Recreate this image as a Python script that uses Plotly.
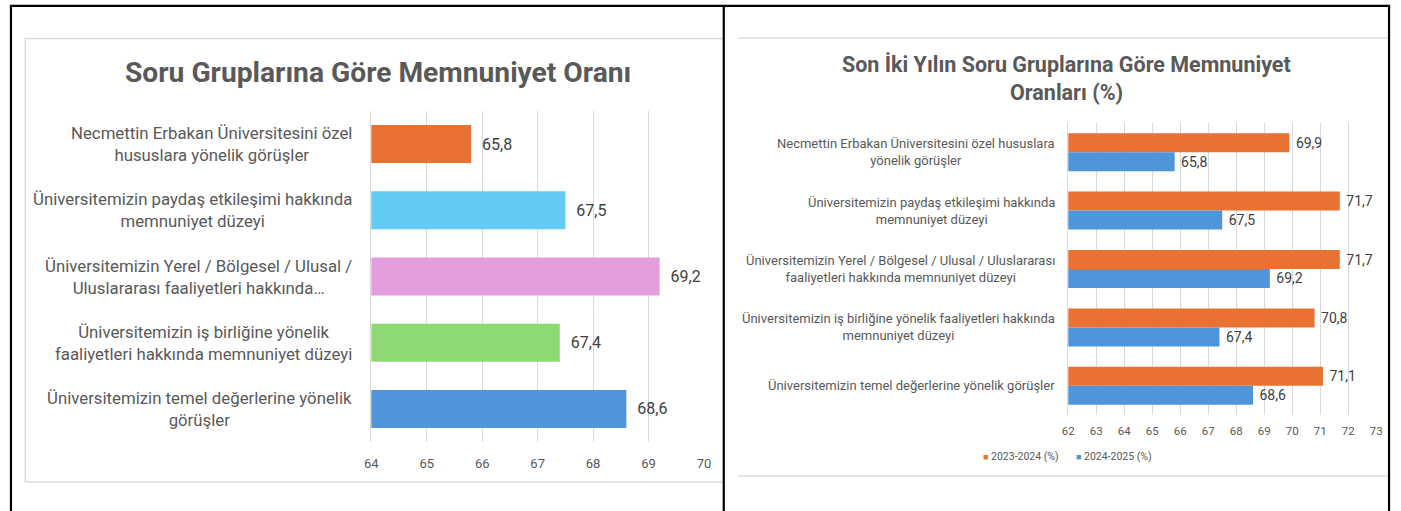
"""Two satisfaction bar charts side by side, as pasted in a Word table."""

import plotly.graph_objects as go

# --- data -------------------------------------------------------------------
left_labels = [
    "Necmettin Erbakan Üniversitesini özel<br>hususlara yönelik görüşler",
    "Üniversitemizin paydaş etkileşimi hakkında<br>memnuniyet düzeyi",
    "Üniversitemizin Yerel / Bölgesel / Ulusal /<br>Uluslararası faaliyetleri hakkında…",
    "Üniversitemizin iş birliğine yönelik<br>faaliyetleri hakkında memnuniyet düzeyi",
    "Üniversitemizin temel değerlerine yönelik<br>görüşler",
]
right_labels = [
    "Necmettin Erbakan Üniversitesini özel hususlara<br>yönelik görüşler",
    "Üniversitemizin paydaş etkileşimi hakkında<br>memnuniyet düzeyi",
    "Üniversitemizin Yerel / Bölgesel / Ulusal / Uluslararası<br>faaliyetleri hakkında memnuniyet düzeyi",
    "Üniversitemizin iş birliğine yönelik faaliyetleri hakkında<br>memnuniyet düzeyi",
    "Üniversitemizin temel değerlerine yönelik görüşler",
]
series_names = ["2023-2024 (%)", "2024-2025 (%)"]
values_2324 = [69.9, 71.7, 71.7, 70.8, 71.1]
values_2425 = [65.8, 67.5, 69.2, 67.4, 68.6]

left_title = "Soru Gruplarına Göre Memnuniyet Oranı"
right_title = ["Son İki Yılın Soru Gruplarına Göre Memnuniyet", "Oranları (%)"]

# --- styling ----------------------------------------------------------------
W, H = 1401, 511
FONT = "Roboto"
GREY_TXT = "#595959"
GRID = "#d9d9d9"
ORANGE = "#E97132"
BLUE = "#4E95D9"
left_colors = [ORANGE, "#61CBF3", "#E59EDD", "#8ED973", BLUE]


def px(x):
    return x / W


def py(y):
    return 1 - y / H


fig = go.Figure()

fig.add_trace(
    go.Bar(
        x=values_2425,
        y=left_labels,
        orientation="h",
        width=0.574,
        marker=dict(color=left_colors, line=dict(width=0)),
        texttemplate="\u00a0\u00a0%{x:.1f}",
        textposition="outside",
        textfont=dict(family=FONT, size=16, color="#404040"),
        constraintext="none",
        cliponaxis=False,
        showlegend=False,
        xaxis="x",
        yaxis="y",
    )
)

for name, vals, color in zip(series_names, [values_2324, values_2425], [ORANGE, BLUE]):
    fig.add_trace(
        go.Bar(
            x=vals,
            y=right_labels,
            orientation="h",
            name=name,
            marker=dict(color=color, line=dict(width=0)),
            texttemplate="\u00a0%{x:.1f}",
            textposition="outside",
            textfont=dict(family=FONT, size=14, color="#404040"),
            constraintext="none",
            cliponaxis=False,
            showlegend=False,
            xaxis="x2",
            yaxis="y2",
        )
    )

axis_common = dict(
    showgrid=True,
    gridcolor=GRID,
    gridwidth=1,
    zeroline=False,
    dtick=1,
    ticks="outside",
    tickcolor="rgba(0,0,0,0)",
    fixedrange=True,
)

fig.update_layout(
    width=W,
    height=H,
    margin=dict(l=0, r=0, t=0, b=0),
    paper_bgcolor="white",
    plot_bgcolor="white",
    separators=",.",
    barmode="group",
    bargap=0.35,
    bargroupgap=0,
    font=dict(family=FONT, color=GREY_TXT),
    xaxis=dict(
        domain=[px(368), px(704)],
        range=[64, 70],
        anchor="y",
        ticklen=9,
        tickfont=dict(size=13, color=GREY_TXT),
        **axis_common,
    ),
    yaxis=dict(
        domain=[py(442), py(111)],
        type="category",
        autorange="reversed",
        showticklabels=False,
        showline=True,
        linecolor=GRID,
        anchor="x",
        fixedrange=True,
    ),
    xaxis2=dict(
        domain=[px(1072), px(1383)],
        range=[62, 73],
        anchor="y2",
        ticklen=5,
        tickfont=dict(size=11.5, color=GREY_TXT),
        **axis_common,
    ),
    yaxis2=dict(
        domain=[py(415), py(123)],
        type="category",
        autorange="reversed",
        showticklabels=False,
        showline=True,
        linecolor=GRID,
        anchor="x2",
        fixedrange=True,
    ),
)

# category labels: right-aligned blocks, centred lines
for lab in left_labels:
    fig.add_annotation(
        x=px(350), xref="paper", xanchor="right",
        y=lab, yref="y", yanchor="middle",
        text=lab, align="center", showarrow=False,
        font=dict(family=FONT, size=16.8, color=GREY_TXT),
    )
for lab in right_labels:
    fig.add_annotation(
        x=px(1061), xref="paper", xanchor="right",
        y=lab, yref="y2", yanchor="middle",
        text=lab, align="center", showarrow=False,
        font=dict(family=FONT, size=13, color=GREY_TXT),
    )

# titles
fig.add_annotation(
    x=px(374.5), y=py(73), xref="paper", yref="paper",
    xanchor="center", yanchor="middle", showarrow=False,
    text=f"<b>{left_title}</b>",
    font=dict(family=FONT, size=28.2, color=GREY_TXT),
)
for line, ypos in zip(right_title, [64, 93]):
    fig.add_annotation(
        x=px(1070), y=py(ypos), xref="paper", yref="paper",
        xanchor="center", yanchor="middle", showarrow=False,
        text=f"<b>{line}</b>",
        font=dict(family=FONT, size=21.5, color=GREY_TXT),
    )

# legend of the right chart
for name, color, xpos in zip(series_names, [ORANGE, BLUE], [984, 1078]):
    fig.add_annotation(
        x=px(xpos), y=py(456), xref="paper", yref="paper",
        xanchor="left", yanchor="middle", showarrow=False,
        text=f"<span style='color:{color};font-size:9px'>■</span> {name}",
        font=dict(family=FONT, size=10.5, color=GREY_TXT),
    )

# chart frames (light) and table borders (black)
fig.add_shape(type="rect", xref="paper", yref="paper",
              x0=px(18.5), x1=px(724), y0=py(482), y1=py(38.5),
              line=dict(color="#dcdcdc", width=1.5))
for yline in [38, 476]:
    fig.add_shape(type="line", xref="paper", yref="paper",
                  x0=px(738), x1=px(1396), y0=py(yline), y1=py(yline),
                  line=dict(color="#dcdcdc", width=1.5))
fig.add_shape(type="line", xref="paper", yref="paper",
              x0=px(3), x1=px(1397), y0=py(5.8), y1=py(5.8),
              line=dict(color="black", width=2.2))
for xline in [4, 724, 1396]:
    fig.add_shape(type="line", xref="paper", yref="paper",
                  x0=px(xline), x1=px(xline), y0=py(5), y1=0,
                  line=dict(color="black", width=2.2))

fig.write_html(
    "out.html",
    config={"displayModeBar": False},
    post_script=(
        "document.body.style.margin='0';"
        "document.body.style.overflow='hidden';"
        "document.documentElement.style.overflow='hidden';"
    ),
)
